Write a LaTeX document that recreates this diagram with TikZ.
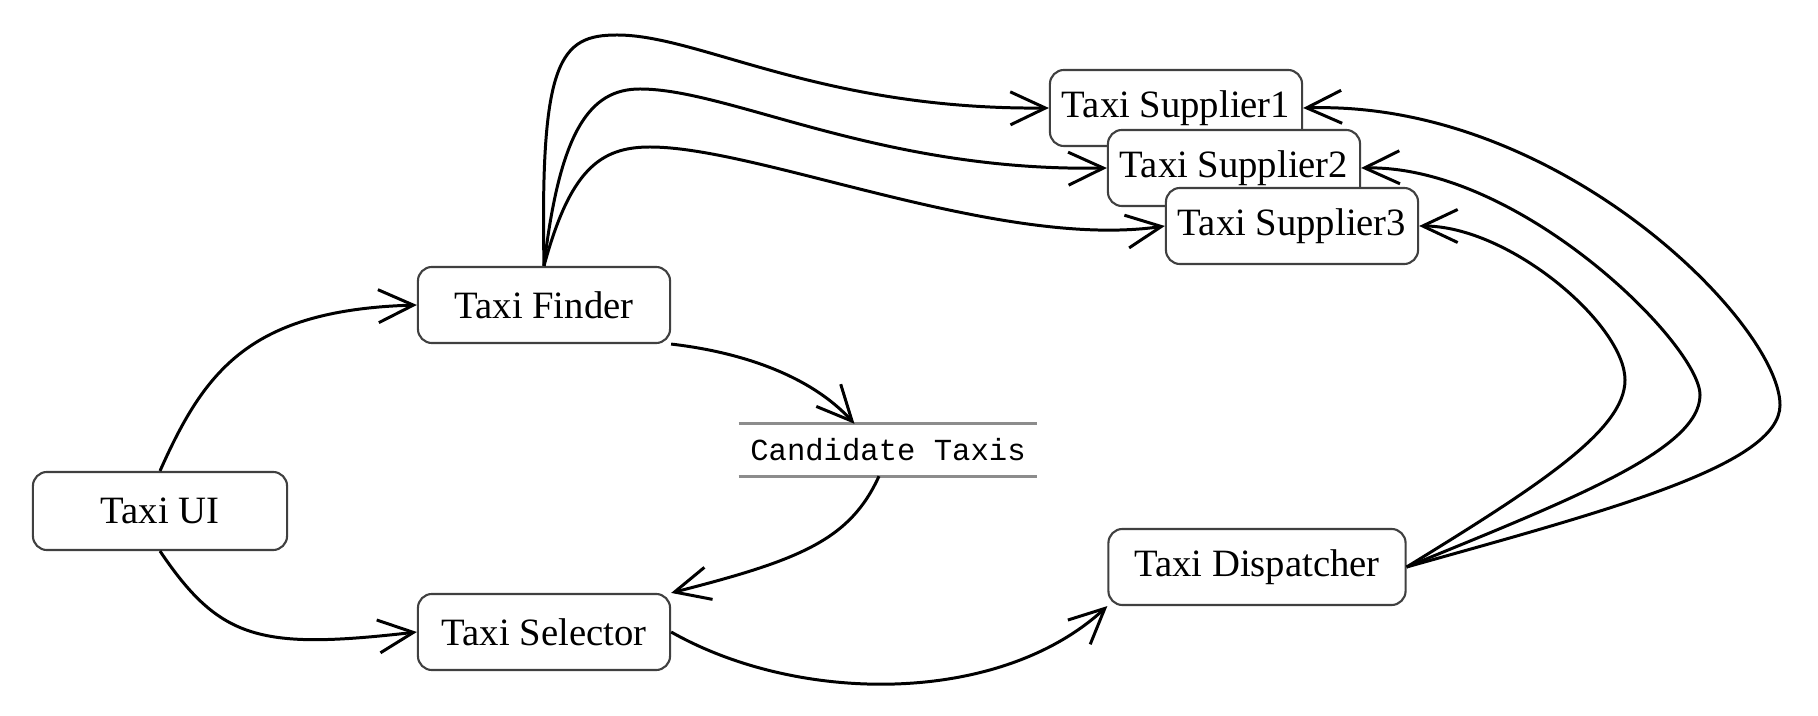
\documentclass[tikz,border=0pt]{standalone}
\usepackage{fontspec}
\setmainfont{Liberation Serif}
\setmonofont{Liberation Mono}
\usetikzlibrary{arrows.meta}

\tikzset{
  box/.style={draw=black!75, fill=white, rounded corners=4pt, line width=0.6pt,
    minimum width=2.52cm, minimum height=0.76cm, inner sep=0pt,
    font=\fontsize{11}{13}\selectfont},
  store/.style={minimum width=2.97cm, minimum height=0.51cm, inner sep=0pt,
    font=\fontsize{8.7}{10}\ttfamily},
  storeline/.style={draw=black!45, line width=0.8pt},
  flow/.style={-{Straight Barb[length=3.5mm,width=3.3mm]}, line width=0.85pt},
}

\begin{document}
\begin{tikzpicture}[x=0.01cm,y=-0.01cm]
      \useasboundingbox (0,0) rectangle (1818,716);
      \draw
        (160,511) node[box, minimum width=2.54cm, minimum height=0.78cm] (ui){Taxi UI}
        (544,305) node[box] (finder){Taxi Finder}
        (544,632) node[box] (sel){Taxi Selector}
        (888,450) node[store] (cand){Candidate Taxis}
        (1257,567) node[box, minimum width=2.97cm] (disp){Taxi Dispatcher}
        (1176,108) node[box] (sup1){Taxi Supplier1}
        (1234,168) node[box] (sup2){Taxi Supplier2}
        (1292,226) node[box] (sup3){Taxi Supplier3};
      \draw[storeline] (cand.north west) -- (cand.north east);
      \draw[storeline] (cand.south west) -- (cand.south east);
      \begin{scope}[flow]
        \draw (ui.north) .. controls (205,370) and (250,310) .. (finder.west);
        \draw (ui.south) .. controls (220,640) and (260,650) .. (sel.west);
        \draw (finder.south east) .. controls (740,352) and (810,375) .. (cand.142);
        \draw (cand.251) .. controls (850,540) and (800,560) .. (sel.north east);
        \draw (sel.east) .. controls (800,705) and (1000,705) .. (disp.south west);
        \draw (finder.north) .. controls (540,60) and (560,35) .. (617,35)
          .. controls (700,35) and (820,110) .. (sup1.west);
        \draw (finder.north) .. controls (560,130) and (590,89) .. (640,89)
          .. controls (730,89) and (880,172) .. (sup2.west);
        \draw (finder.north) .. controls (570,170) and (600,147) .. (650,147)
          .. controls (760,147) and (1000,250) .. (sup3.west);
        \draw (disp.east) .. controls (1540,485) and (1625,430) .. (1625,380)
          .. controls (1625,325) and (1510,226) .. (sup3.east);
        \draw (disp.east) .. controls (1570,500) and (1700,450) .. (1700,395)
          .. controls (1700,345) and (1520,165) .. (sup2.east);
        \draw (disp.east) .. controls (1610,510) and (1780,465) .. (1780,405)
          .. controls (1780,325) and (1560,100) .. (sup1.east);
      \end{scope}
    \end{tikzpicture}
\end{document}
